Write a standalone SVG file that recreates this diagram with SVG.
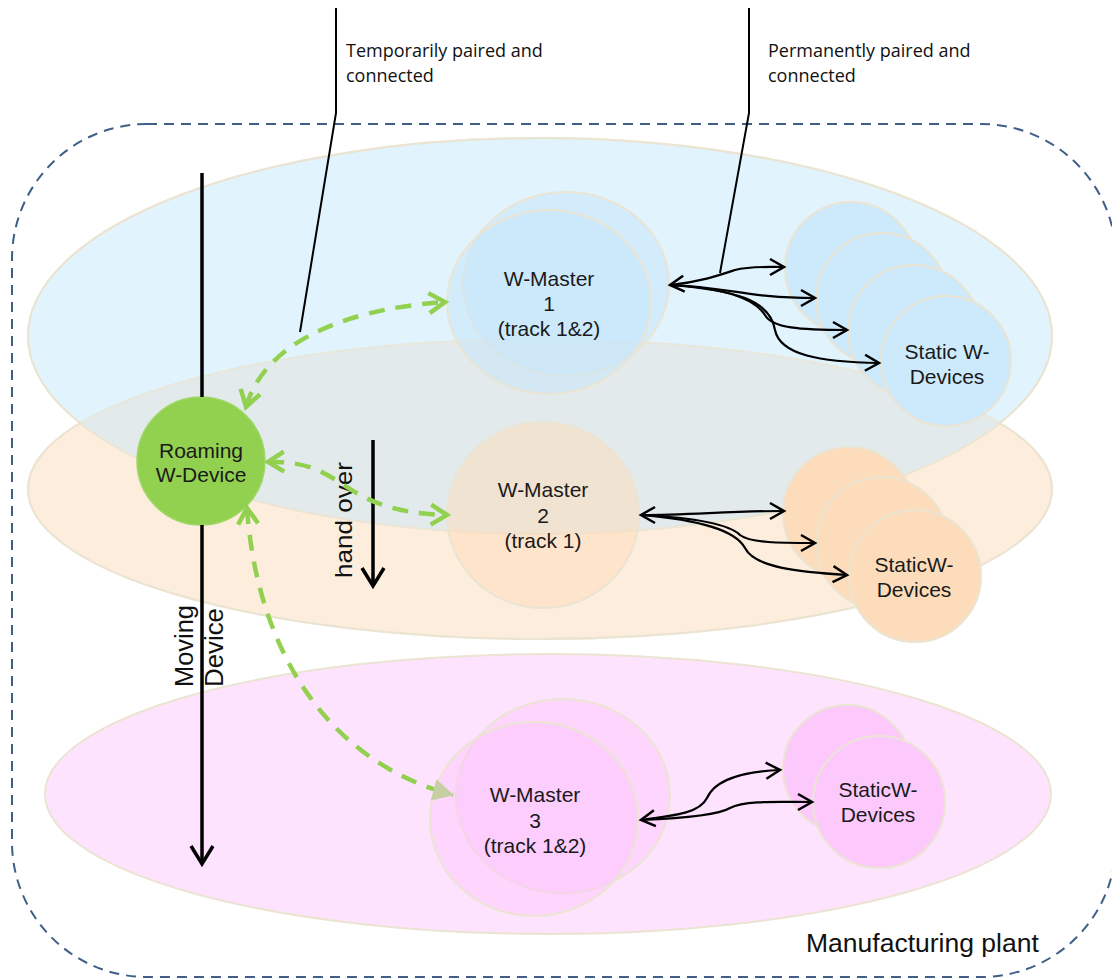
<svg xmlns="http://www.w3.org/2000/svg" width="1112" height="978" viewBox="0 0 1112 978">
<style>
.zone{stroke:#ebe4d2;stroke-width:2}
.edge{fill:none;stroke:#ebe4d2;stroke-width:2}
.node{stroke:#ebe4d2;stroke-width:2}
.lbl{font-family:"Liberation Sans",Arial,sans-serif;font-size:21px;fill:#1a1a1a;text-anchor:middle}
.note{font-family:"Open Sans","Noto Sans",sans-serif;font-size:18px;fill:#111}
.big{font-family:"Liberation Sans",Arial,sans-serif;fill:#111}
.blk{fill:none;stroke:#000;stroke-width:2.2}
.thick{fill:none;stroke:#000;stroke-width:3.5}
.leader{fill:none;stroke:#000;stroke-width:2}
.grn{fill:none;stroke:#92d050;stroke-width:4.5;stroke-dasharray:16 11}
</style>
<defs>
<marker id="chev" markerUnits="userSpaceOnUse" markerWidth="20" markerHeight="20" refX="15" refY="10" orient="auto-start-reverse" overflow="visible">
<path d="M1,2 L15,10 L1,18" fill="none" stroke="#000" stroke-width="2.5" stroke-linejoin="miter"/>
</marker>
<marker id="chevBig" markerUnits="userSpaceOnUse" markerWidth="24" markerHeight="24" refX="19" refY="12" orient="auto" overflow="visible">
<path d="M1,1 L19,12 L1,23" fill="none" stroke="#000" stroke-width="3.5"/>
</marker>
<marker id="gchev" markerUnits="userSpaceOnUse" markerWidth="24" markerHeight="24" refX="18" refY="12" orient="auto-start-reverse" overflow="visible">
<path d="M2,2 L18,12 L2,22" fill="none" stroke="#92d050" stroke-width="4.5"/>
</marker>
<marker id="gtri" markerUnits="userSpaceOnUse" markerWidth="24" markerHeight="24" refX="20" refY="11" orient="auto" overflow="visible">
<path d="M0,0 L21,11 L0,22 Z" fill="#c6cfa2"/>
</marker>
<clipPath id="orangeClip"><ellipse cx="540" cy="489" rx="512" ry="150"/></clipPath>
</defs>
<rect width="1112" height="978" fill="#fff"/>

<g id="plant">
<rect x="12" y="124" width="1104" height="853" rx="135" ry="135" fill="none" stroke="#3f5f86" stroke-width="2" stroke-dasharray="10 7"/>
<text class="big" x="806" y="952" font-size="26.5">Manufacturing plant</text>
</g>

<g id="zone-pink">
<ellipse class="zone" cx="548" cy="794" rx="503" ry="140" fill="#fde3fd"/>
</g>
<g id="zone-orange">
<ellipse class="zone" cx="540" cy="489" rx="512" ry="150" fill="#fdeddc"/>
</g>
<g id="zone-blue">
<ellipse class="zone" cx="540" cy="336" rx="512" ry="198" fill="#e1f3fd"/>
<ellipse cx="540" cy="336" rx="512" ry="198" fill="#e3eaeb" clip-path="url(#orangeClip)"/>
<ellipse class="edge" cx="540" cy="489" rx="512" ry="150" opacity="0.7"/>
<ellipse class="edge" cx="540" cy="336" rx="512" ry="198" opacity="0.7"/>
</g>

<g id="label-temporary">
<text class="note" x="346" y="57">Temporarily paired and</text>
<text class="note" x="346" y="82">connected</text>
</g>
<g id="label-permanent">
<text class="note" x="768" y="57">Permanently paired and</text>
<text class="note" x="768" y="82">connected</text>
</g>
<g id="label-handover">
<text class="big" font-size="24" transform="translate(352,578) rotate(-90)" textLength="116" lengthAdjust="spacingAndGlyphs">hand over</text>
</g>
<g id="label-moving">
<text class="big" font-size="26" transform="translate(193,687) rotate(-90)" textLength="82" lengthAdjust="spacingAndGlyphs">Moving</text>
<text class="big" font-size="26" transform="translate(223,687) rotate(-90)" textLength="79" lengthAdjust="spacingAndGlyphs">Device</text>
</g>

<g id="master1">
<ellipse class="node" cx="566" cy="284" rx="103" ry="92" fill="#c6e6fb" fill-opacity="0.5"/>
<ellipse class="node" cx="549" cy="302" rx="102" ry="92" fill="#c6e6fb" fill-opacity="0.5"/>
<text class="lbl" x="549" y="286">W-Master</text>
<text class="lbl" x="549" y="311">1</text>
<text class="lbl" x="549" y="336">(track 1&amp;2)</text>
</g>
<g id="master2">
<ellipse class="node" cx="543" cy="515" rx="96" ry="93" fill="#fddcbc" fill-opacity="0.55"/>
<text class="lbl" x="543" y="497">W-Master</text>
<text class="lbl" x="543" y="523">2</text>
<text class="lbl" x="543" y="548">(track 1)</text>
</g>
<g id="master3">
<ellipse class="node" cx="563" cy="796" rx="107" ry="97" fill="#fcc3fc" fill-opacity="0.45"/>
<ellipse class="node" cx="534" cy="819" rx="104" ry="97" fill="#fcc3fc" fill-opacity="0.45"/>
<text class="lbl" x="535" y="802">W-Master</text>
<text class="lbl" x="535" y="828">3</text>
<text class="lbl" x="535" y="853">(track 1&amp;2)</text>
</g>

<g id="static-blue">
<circle class="node" cx="851" cy="268" r="66" fill="#cdeafc"/>
<circle class="node" cx="882" cy="299" r="66" fill="#cdeafc"/>
<circle class="node" cx="914" cy="331" r="66" fill="#cdeafc"/>
<circle class="node" cx="946" cy="361" r="65" fill="#cdeafc"/>
<text class="lbl" x="947" y="359">Static W-</text>
<text class="lbl" x="947" y="384">Devices</text>
</g>
<g id="static-orange">
<circle class="node" cx="849" cy="513" r="66" fill="#fddcbb"/>
<circle class="node" cx="882" cy="543" r="66" fill="#fddcbb"/>
<circle class="node" cx="915" cy="576" r="66" fill="#fddcbb"/>
<text class="lbl" x="914" y="572">StaticW-</text>
<text class="lbl" x="914" y="597">Devices</text>
</g>
<g id="static-pink">
<circle class="node" cx="847" cy="769" r="64" fill="#fdc9fd"/>
<circle class="node" cx="879" cy="802" r="66" fill="#fdc9fd"/>
<text class="lbl" x="878" y="797">StaticW-</text>
<text class="lbl" x="878" y="822">Devices</text>
</g>

<g id="roaming">
<circle cx="201" cy="461" r="64" fill="#92d050" stroke="#9fd765" stroke-width="1.5"/>
<text class="lbl" x="201" y="458">Roaming</text>
<text class="lbl" x="201" y="482">W-Device</text>
</g>

<g id="connectors">
<path class="leader" d="M336,8 L336,113 L300,332"/>
<path class="leader" d="M749,8 L749,113 L720,273"/>
<path class="thick" d="M202,173 L202,397"/>
<path class="thick" d="M202,525 L202,864" marker-end="url(#chevBig)"/>
<path class="thick" d="M373,440 L373,586" marker-end="url(#chevBig)"/>
<path class="grn" d="M246,407 C262,350 330,310 445,302" marker-start="url(#gchev)" marker-end="url(#gchev)"/>
<path class="grn" d="M268,462 C350,460 335,512 447,515" marker-start="url(#gchev)" marker-end="url(#gchev)"/>
<path class="grn" d="M247,508 C256,640 320,760 453,795" marker-start="url(#gchev)" marker-end="url(#gtri)"/>
<path class="blk" d="M670,285 C700,282 720,275 735,270 C750,266 765,267 784,267" marker-start="url(#chev)" marker-end="url(#chev)"/>
<path class="blk" d="M670,285 C730,287 745,298 815,298" marker-end="url(#chev)"/>
<path class="blk" d="M670,285 C730,288 755,300 765,315 C772,328 800,330 847,330" marker-end="url(#chev)"/>
<path class="blk" d="M670,285 C735,290 770,300 775,330 C780,355 820,362 879,363" marker-end="url(#chev)"/>
<path class="blk" d="M641,515 C690,515 730,511 784,511" marker-start="url(#chev)" marker-end="url(#chev)"/>
<path class="blk" d="M641,515 C700,518 730,525 740,535 C750,543 780,543 815,543" marker-end="url(#chev)"/>
<path class="blk" d="M641,515 C700,520 735,530 745,548 C755,568 800,572 847,575" marker-end="url(#chev)"/>
<path class="blk" d="M641,820 C680,815 700,812 707,798 C715,780 740,772 780,770" marker-start="url(#chev)" marker-end="url(#chev)"/>
<path class="blk" d="M641,820 C690,818 720,814 730,808 C745,800 780,802 812,802" marker-end="url(#chev)"/>
</g>
</svg>
